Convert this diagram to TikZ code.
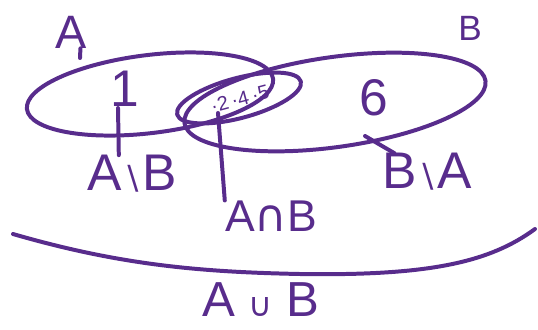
\documentclass[tikz,border=0pt]{standalone}
\usepackage{fontspec}
\setmainfont{Liberation Sans}
\newfontfamily\setsym{DejaVu Sans}
\newcommand\smallsym[1]{{\setsym\fontsize{28}{28}\selectfont #1}}
\usetikzlibrary{positioning}
\definecolor{penpurple}{RGB}{88,44,140}

\begin{document}
\begin{tikzpicture}[x=0.03cm, y=-0.03cm,
  ink/.style={draw=penpurple, line width=3.4pt, line cap=round, line join=round},
  setlabel/.style={text=penpurple, inner sep=0pt, font=\fontsize{44}{44}\selectfont},
  element/.style={text=penpurple, inner sep=0pt, font=\fontsize{44}{44}\selectfont}]

  \useasboundingbox (0,0) rectangle (538,329);

  % the two sets and their overlap
  \draw [ink, rotate around={7:(150,94)}] (150,94) ellipse [x radius=124, y radius=39];
  \draw [ink, rotate around={8:(335,102)}] (335,102) ellipse [x radius=152, y radius=45];
  \draw [ink, rotate around={15:(239,98)}] (239,98) ellipse [x radius=64, y radius=20];

  \node [setlabel, font=\fontsize{40}{40}\selectfont] (labA) at (71,32) {A};
  \node [setlabel, font=\fontsize{30}{30}\selectfont] (labB) at (470,28) {B};
  \node [element] (one) at (125,89) {1};
  \node [element] (six) at (374,98) {6};
  \node [text=penpurple, inner sep=0pt, font=\fontsize{17}{17}\selectfont, rotate=15] (common) at (240,99) {·2\,·4\,·5};

  \node [setlabel] (AminusB) at (132,174) {A\smallsym{∖}B};
  \node [setlabel, font=\fontsize{38}{38}\selectfont] (AcapB) at (271,216) {A{\setsym∩}B};
  \node [setlabel] (BminusA) at (427,172) {B\smallsym{∖}A};
  \node [setlabel, font=\fontsize{42}{42}\selectfont] (AcupB) at (261,300) {A\;\smallsym{∪}\;B};

  % pointers into the regions
  \coordinate (topA) at (80,58);
  \coordinate (inA) at (118,108);
  \coordinate (inAB) at (218,113);
  \coordinate (inB) at (365,136);
  \draw [ink] (labA.-60) -- (topA);
  \draw [ink] (AminusB.125) -- (inA);
  \draw [ink] (AcapB.north west) -- (inAB);
  \draw [ink] (BminusA.150) -- (inB);

  % sweep under everything
  \draw [ink] (13,234) .. controls (120,265) and (200,272) .. (300,274)
    .. controls (430,276) and (490,262) .. (535,229);
\end{tikzpicture}
\end{document}
